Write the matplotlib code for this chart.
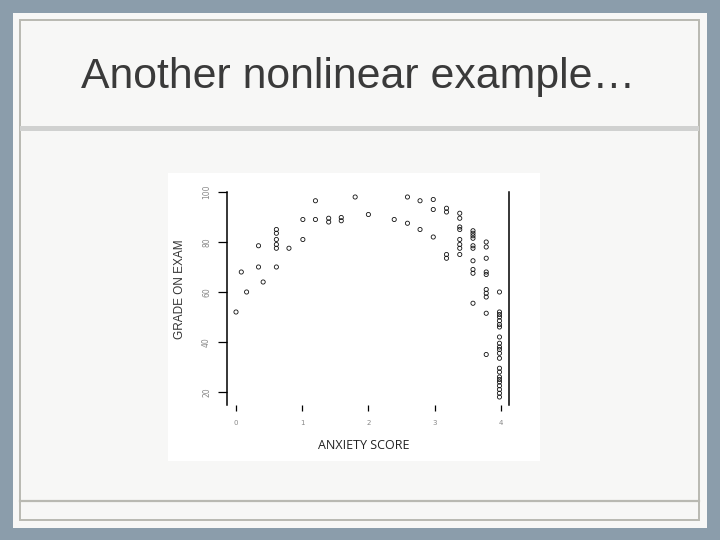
import matplotlib
matplotlib.use("Agg")
import matplotlib.pyplot as plt
from matplotlib.patches import Rectangle

# data (anxiety score vs exam grade)
anxiety = [0.0, 0.08, 0.16, 0.34, 0.34, 0.41,
           0.61, 0.61, 0.61, 0.61, 0.61, 0.61,
           0.80, 1.01, 1.01, 1.20, 1.20, 1.40, 1.40, 1.59, 1.59,
           1.80, 2.00, 2.39, 2.59, 2.59, 2.78, 2.78,
           2.98, 2.98, 2.98,
           3.18, 3.18, 3.18, 3.18,
           3.38, 3.38, 3.38, 3.38, 3.38, 3.38, 3.38, 3.38,
           3.58, 3.58, 3.58, 3.58, 3.58, 3.58, 3.58, 3.58, 3.58, 3.58,
           3.78, 3.78, 3.78, 3.78, 3.78, 3.78, 3.78, 3.78, 3.78, 3.78,
           3.98, 3.98, 3.98, 3.98, 3.98, 3.98, 3.98, 3.98, 3.98, 3.98, 3.98,
           3.98, 3.98, 3.98, 3.98, 3.98, 3.98, 3.98, 3.98, 3.98, 3.98, 3.98]
grade = [52, 68, 60, 70, 78.5, 64,
         70, 77.5, 79, 81, 83.5, 85,
         77.5, 81, 89, 89, 96.5, 89.5, 88, 89.8, 88.5,
         98, 91, 89, 98, 87.5, 96.5, 85,
         97, 93, 82,
         93.5, 92, 75, 73.5,
         91.5, 89.5, 86, 85, 81, 79, 77.5, 75,
         84.5, 83.5, 82.5, 81.5, 78.5, 77.5, 72.5, 69, 67.5, 55.5,
         80, 78, 73.5, 68, 67, 61, 59.5, 58, 51.5, 35,
         60, 52, 51, 50, 48.5, 47, 46, 42, 39.5, 38, 37,
         35.5, 33.5, 29.5, 28, 26, 25, 24, 22.5, 21, 19.5, 18]
x_ticks = [0, 1, 2, 3, 4]
y_ticks = [20, 40, 60, 80, 100]

W, H = 720, 540
fig = plt.figure(figsize=(7.2, 5.4), dpi=100)
fig.patch.set_facecolor('#8b9dab')

# slide background drawn in pixel coords
bg = fig.add_axes([0, 0, 1, 1], zorder=0)
bg.set_xlim(0, W)
bg.set_ylim(H, 0)
bg.axis('off')
bg.add_patch(Rectangle((13, 13), 694, 515, facecolor='#f7f7f6', edgecolor='none'))
bg.add_patch(Rectangle((20, 20), 679, 500, facecolor='none', edgecolor='#b9b9b2', lw=1.4))
bg.add_patch(Rectangle((20, 126), 679, 5, facecolor='#d0d1d0', edgecolor='none'))
bg.plot([20, 699], [501, 501], color='#b9b9b2', lw=1.6)
bg.text(358, 88, 'Another nonlinear example…', fontsize=30.8, family=['Liberation Sans', 'DejaVu Sans'],
        color='#3a3a3a', ha='center', va='baseline')
# white area of the pasted plot
bg.add_patch(Rectangle((168, 173), 372, 288, facecolor='white', edgecolor='none'))
bg.text(364, 449, 'ANXIETY SCORE', fontsize=9, family='Open Sans', color='#222222',
        ha='center', va='baseline')
bg.text(180, 289, 'GRADE ON EXAM', fontsize=8.5, family='Liberation Sans', color='#333333',
        ha='center', va='center', rotation=90)

# scatter axes
left, right, top, bottom = 227, 509, 192, 405
ax = fig.add_axes([left / W, 1 - bottom / H, (right - left) / W, (bottom - top) / H], zorder=2)
ax.patch.set_visible(False)
ax.scatter(anxiety, grade, s=9, facecolors='none', edgecolors='#111111', linewidths=0.6)
ax.set_xlim(-0.136, 4.124)
ax.set_ylim(14.8, 100)
for side in ['top', 'bottom']:
    ax.spines[side].set_visible(False)
for side in ['left', 'right']:
    ax.spines[side].set_linewidth(1.1)
ax.set_xticks(x_ticks)
ax.set_yticks(y_ticks)
ax.set_xticklabels([str(v) for v in x_ticks], fontsize=5, color='#888888')
ax.set_yticklabels([str(v) for v in y_ticks], fontsize=5.5, color='#888888', rotation=90, va='center')
ax.tick_params(axis='x', length=4.5, width=0.9, pad=6)
ax.tick_params(axis='y', length=6.5, width=0.9, pad=5)

fig.savefig('out.png', dpi=100, facecolor=fig.get_facecolor())
